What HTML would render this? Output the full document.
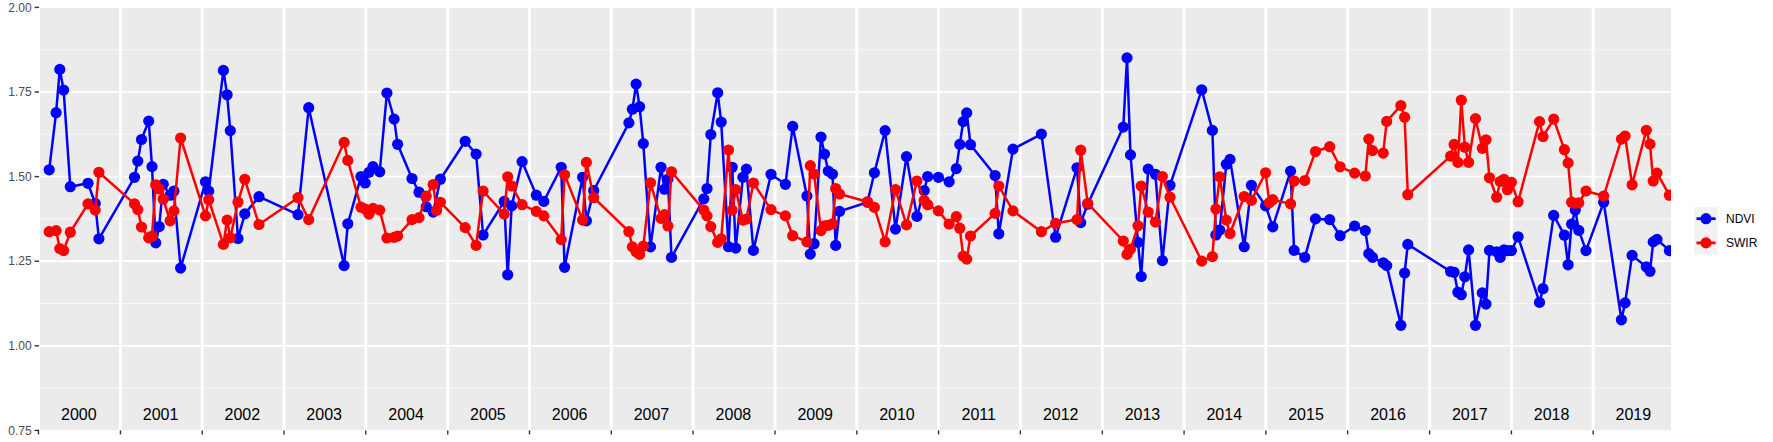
<!DOCTYPE html>
<html><head><meta charset="utf-8"><title>NDVI SWIR time series</title>
<style>html,body{margin:0;padding:0;background:#fff;}body{width:1773px;height:442px;overflow:hidden;}</style></head>
<body>
<svg width="1773" height="442" viewBox="0 0 1773 442" style="display:block">
<defs><clipPath id="pc"><rect x="40.00" y="8.00" width="1631.00" height="422.20"/></clipPath></defs>
<rect width="1773" height="442" fill="#fff"/>
<rect x="40.00" y="8.00" width="1631.00" height="422.20" fill="#EBEBEB"/>
<g clip-path="url(#pc)">
<line x1="40.0" x2="1671.0" y1="49.70" y2="49.70" stroke="#fff" stroke-width="0.65"/>
<line x1="40.0" x2="1671.0" y1="134.30" y2="134.30" stroke="#fff" stroke-width="0.65"/>
<line x1="40.0" x2="1671.0" y1="218.90" y2="218.90" stroke="#fff" stroke-width="0.65"/>
<line x1="40.0" x2="1671.0" y1="303.50" y2="303.50" stroke="#fff" stroke-width="0.65"/>
<line x1="40.0" x2="1671.0" y1="388.10" y2="388.10" stroke="#fff" stroke-width="0.65"/>
<line x1="40.0" x2="1671.0" y1="92.00" y2="92.00" stroke="#fff" stroke-width="1.75"/>
<line x1="40.0" x2="1671.0" y1="176.60" y2="176.60" stroke="#fff" stroke-width="1.75"/>
<line x1="40.0" x2="1671.0" y1="261.20" y2="261.20" stroke="#fff" stroke-width="1.75"/>
<line x1="40.0" x2="1671.0" y1="345.80" y2="345.80" stroke="#fff" stroke-width="1.75"/>
<line x1="38.46" x2="38.46" y1="8.0" y2="430.2" stroke="#fff" stroke-width="3"/>
<line x1="120.45" x2="120.45" y1="8.0" y2="430.2" stroke="#fff" stroke-width="3"/>
<line x1="202.22" x2="202.22" y1="8.0" y2="430.2" stroke="#fff" stroke-width="3"/>
<line x1="283.98" x2="283.98" y1="8.0" y2="430.2" stroke="#fff" stroke-width="3"/>
<line x1="365.75" x2="365.75" y1="8.0" y2="430.2" stroke="#fff" stroke-width="3"/>
<line x1="447.74" x2="447.74" y1="8.0" y2="430.2" stroke="#fff" stroke-width="3"/>
<line x1="529.51" x2="529.51" y1="8.0" y2="430.2" stroke="#fff" stroke-width="3"/>
<line x1="611.28" x2="611.28" y1="8.0" y2="430.2" stroke="#fff" stroke-width="3"/>
<line x1="693.05" x2="693.05" y1="8.0" y2="430.2" stroke="#fff" stroke-width="3"/>
<line x1="775.04" x2="775.04" y1="8.0" y2="430.2" stroke="#fff" stroke-width="3"/>
<line x1="856.80" x2="856.80" y1="8.0" y2="430.2" stroke="#fff" stroke-width="3"/>
<line x1="938.57" x2="938.57" y1="8.0" y2="430.2" stroke="#fff" stroke-width="3"/>
<line x1="1020.34" x2="1020.34" y1="8.0" y2="430.2" stroke="#fff" stroke-width="3"/>
<line x1="1102.33" x2="1102.33" y1="8.0" y2="430.2" stroke="#fff" stroke-width="3"/>
<line x1="1184.10" x2="1184.10" y1="8.0" y2="430.2" stroke="#fff" stroke-width="3"/>
<line x1="1265.86" x2="1265.86" y1="8.0" y2="430.2" stroke="#fff" stroke-width="3"/>
<line x1="1347.63" x2="1347.63" y1="8.0" y2="430.2" stroke="#fff" stroke-width="3"/>
<line x1="1429.62" x2="1429.62" y1="8.0" y2="430.2" stroke="#fff" stroke-width="3"/>
<line x1="1511.39" x2="1511.39" y1="8.0" y2="430.2" stroke="#fff" stroke-width="3"/>
<line x1="1593.16" x2="1593.16" y1="8.0" y2="430.2" stroke="#fff" stroke-width="3"/>
<g font-family="'Liberation Sans', Arial, sans-serif" font-size="16px" fill="#000" text-anchor="middle">
<text x="78.83" y="420">2000</text>
<text x="160.60" y="420">2001</text>
<text x="242.36" y="420">2002</text>
<text x="324.13" y="420">2003</text>
<text x="406.12" y="420">2004</text>
<text x="487.89" y="420">2005</text>
<text x="569.66" y="420">2006</text>
<text x="651.43" y="420">2007</text>
<text x="733.42" y="420">2008</text>
<text x="815.18" y="420">2009</text>
<text x="896.95" y="420">2010</text>
<text x="978.72" y="420">2011</text>
<text x="1060.71" y="420">2012</text>
<text x="1142.48" y="420">2013</text>
<text x="1224.24" y="420">2014</text>
<text x="1306.01" y="420">2015</text>
<text x="1388.00" y="420">2016</text>
<text x="1469.77" y="420">2017</text>
<text x="1551.54" y="420">2018</text>
<text x="1633.31" y="420">2019</text>
</g>
<polyline points="49.2,169.8 56.1,112.7 59.8,69.4 63.6,90.0 70.3,186.7 88.0,183.3 95.2,203.4 98.9,238.8 134.5,177.3 137.8,161.1 141.5,139.5 148.7,121.1 152.0,166.6 155.7,242.9 159.2,226.5 163.2,184.3 170.1,195.2 173.9,191.0 180.6,268.1 205.5,181.8 208.7,191.0 223.4,70.4 227.1,94.8 230.3,130.6 238.0,238.5 244.8,213.9 259.0,196.7 298.0,214.6 308.7,107.7 344.1,265.6 347.8,223.8 361.0,176.5 365.2,183.0 369.0,172.3 373.0,166.6 379.7,171.8 386.9,93.0 394.1,119.1 397.6,144.3 412.0,178.5 419.0,192.2 426.2,206.7 433.2,212.1 440.4,179.2 465.2,141.3 476.1,154.1 483.1,235.0 504.2,201.4 507.7,274.8 511.7,205.9 522.1,161.6 536.3,195.2 543.8,201.4 561.2,167.3 564.6,267.3 582.6,177.3 586.4,220.8 593.7,190.5 628.9,122.9 632.4,109.2 636.1,84.1 639.6,106.7 643.3,143.6 650.5,246.9 661.0,167.3 664.5,189.2 667.9,179.0 671.5,257.4 703.8,198.9 707.0,188.5 710.8,134.5 717.7,92.8 721.2,122.1 728.5,246.7 732.2,167.3 735.7,248.1 742.9,177.3 746.4,169.1 753.4,250.4 771.0,174.3 785.4,184.3 792.7,126.4 806.9,196.0 810.3,254.1 814.1,243.7 821.0,137.0 824.5,154.1 828.2,171.1 832.5,174.1 835.7,245.4 839.5,211.4 867.5,202.2 874.4,172.8 885.1,130.6 895.5,229.1 906.5,156.6 916.9,216.4 924.2,190.5 927.7,176.5 938.4,177.3 949.1,181.8 956.3,168.6 959.8,144.4 963.2,121.6 966.7,112.9 970.5,144.7 995.1,175.5 998.8,233.8 1013.0,149.1 1041.4,134.1 1055.6,237.2 1077.0,167.8 1080.7,222.6 1087.7,204.2 1123.3,127.1 1127.0,57.9 1130.5,154.9 1138.0,242.4 1141.2,276.5 1148.2,169.1 1155.4,174.3 1162.4,260.6 1170.0,185.3 1201.7,89.8 1212.4,130.4 1215.9,235.0 1219.7,230.0 1226.3,164.3 1230.0,159.4 1244.2,246.7 1251.4,185.3 1265.6,205.9 1272.8,226.9 1290.6,171.1 1294.1,250.4 1304.8,257.4 1315.5,218.9 1329.7,219.6 1340.1,235.7 1354.6,226.0 1365.3,230.6 1368.8,253.6 1372.5,257.4 1383.2,262.8 1386.7,265.6 1400.9,325.3 1404.6,273.0 1407.8,244.4 1450.6,271.5 1454.1,272.3 1457.9,292.2 1461.3,294.7 1464.8,276.8 1468.6,249.9 1475.5,325.3 1482.3,292.9 1486.0,304.1 1489.5,250.4 1496.7,251.9 1500.2,257.4 1503.9,249.9 1507.4,250.6 1511.4,250.6 1518.1,236.8 1539.5,302.4 1543.0,288.7 1553.7,215.4 1564.4,235.2 1568.1,264.8 1571.6,224.1 1575.3,210.1 1578.8,230.4 1586.0,250.6 1603.7,202.2 1621.4,319.8 1625.1,302.9 1632.1,255.4 1646.3,266.8 1650.0,271.3 1653.2,241.9 1657.0,239.4 1669.4,250.6" fill="none" stroke="#0000FF" stroke-width="2.5" stroke-linejoin="round"/>
<g fill="#0000FF"><circle cx="49.2" cy="169.8" r="5.6"/><circle cx="56.1" cy="112.7" r="5.6"/><circle cx="59.8" cy="69.4" r="5.6"/><circle cx="63.6" cy="90.0" r="5.6"/><circle cx="70.3" cy="186.7" r="5.6"/><circle cx="88.0" cy="183.3" r="5.6"/><circle cx="95.2" cy="203.4" r="5.6"/><circle cx="98.9" cy="238.8" r="5.6"/><circle cx="134.5" cy="177.3" r="5.6"/><circle cx="137.8" cy="161.1" r="5.6"/><circle cx="141.5" cy="139.5" r="5.6"/><circle cx="148.7" cy="121.1" r="5.6"/><circle cx="152.0" cy="166.6" r="5.6"/><circle cx="155.7" cy="242.9" r="5.6"/><circle cx="159.2" cy="226.5" r="5.6"/><circle cx="163.2" cy="184.3" r="5.6"/><circle cx="170.1" cy="195.2" r="5.6"/><circle cx="173.9" cy="191.0" r="5.6"/><circle cx="180.6" cy="268.1" r="5.6"/><circle cx="205.5" cy="181.8" r="5.6"/><circle cx="208.7" cy="191.0" r="5.6"/><circle cx="223.4" cy="70.4" r="5.6"/><circle cx="227.1" cy="94.8" r="5.6"/><circle cx="230.3" cy="130.6" r="5.6"/><circle cx="238.0" cy="238.5" r="5.6"/><circle cx="244.8" cy="213.9" r="5.6"/><circle cx="259.0" cy="196.7" r="5.6"/><circle cx="298.0" cy="214.6" r="5.6"/><circle cx="308.7" cy="107.7" r="5.6"/><circle cx="344.1" cy="265.6" r="5.6"/><circle cx="347.8" cy="223.8" r="5.6"/><circle cx="361.0" cy="176.5" r="5.6"/><circle cx="365.2" cy="183.0" r="5.6"/><circle cx="369.0" cy="172.3" r="5.6"/><circle cx="373.0" cy="166.6" r="5.6"/><circle cx="379.7" cy="171.8" r="5.6"/><circle cx="386.9" cy="93.0" r="5.6"/><circle cx="394.1" cy="119.1" r="5.6"/><circle cx="397.6" cy="144.3" r="5.6"/><circle cx="412.0" cy="178.5" r="5.6"/><circle cx="419.0" cy="192.2" r="5.6"/><circle cx="426.2" cy="206.7" r="5.6"/><circle cx="433.2" cy="212.1" r="5.6"/><circle cx="440.4" cy="179.2" r="5.6"/><circle cx="465.2" cy="141.3" r="5.6"/><circle cx="476.1" cy="154.1" r="5.6"/><circle cx="483.1" cy="235.0" r="5.6"/><circle cx="504.2" cy="201.4" r="5.6"/><circle cx="507.7" cy="274.8" r="5.6"/><circle cx="511.7" cy="205.9" r="5.6"/><circle cx="522.1" cy="161.6" r="5.6"/><circle cx="536.3" cy="195.2" r="5.6"/><circle cx="543.8" cy="201.4" r="5.6"/><circle cx="561.2" cy="167.3" r="5.6"/><circle cx="564.6" cy="267.3" r="5.6"/><circle cx="582.6" cy="177.3" r="5.6"/><circle cx="586.4" cy="220.8" r="5.6"/><circle cx="593.7" cy="190.5" r="5.6"/><circle cx="628.9" cy="122.9" r="5.6"/><circle cx="632.4" cy="109.2" r="5.6"/><circle cx="636.1" cy="84.1" r="5.6"/><circle cx="639.6" cy="106.7" r="5.6"/><circle cx="643.3" cy="143.6" r="5.6"/><circle cx="650.5" cy="246.9" r="5.6"/><circle cx="661.0" cy="167.3" r="5.6"/><circle cx="664.5" cy="189.2" r="5.6"/><circle cx="667.9" cy="179.0" r="5.6"/><circle cx="671.5" cy="257.4" r="5.6"/><circle cx="703.8" cy="198.9" r="5.6"/><circle cx="707.0" cy="188.5" r="5.6"/><circle cx="710.8" cy="134.5" r="5.6"/><circle cx="717.7" cy="92.8" r="5.6"/><circle cx="721.2" cy="122.1" r="5.6"/><circle cx="728.5" cy="246.7" r="5.6"/><circle cx="732.2" cy="167.3" r="5.6"/><circle cx="735.7" cy="248.1" r="5.6"/><circle cx="742.9" cy="177.3" r="5.6"/><circle cx="746.4" cy="169.1" r="5.6"/><circle cx="753.4" cy="250.4" r="5.6"/><circle cx="771.0" cy="174.3" r="5.6"/><circle cx="785.4" cy="184.3" r="5.6"/><circle cx="792.7" cy="126.4" r="5.6"/><circle cx="806.9" cy="196.0" r="5.6"/><circle cx="810.3" cy="254.1" r="5.6"/><circle cx="814.1" cy="243.7" r="5.6"/><circle cx="821.0" cy="137.0" r="5.6"/><circle cx="824.5" cy="154.1" r="5.6"/><circle cx="828.2" cy="171.1" r="5.6"/><circle cx="832.5" cy="174.1" r="5.6"/><circle cx="835.7" cy="245.4" r="5.6"/><circle cx="839.5" cy="211.4" r="5.6"/><circle cx="867.5" cy="202.2" r="5.6"/><circle cx="874.4" cy="172.8" r="5.6"/><circle cx="885.1" cy="130.6" r="5.6"/><circle cx="895.5" cy="229.1" r="5.6"/><circle cx="906.5" cy="156.6" r="5.6"/><circle cx="916.9" cy="216.4" r="5.6"/><circle cx="924.2" cy="190.5" r="5.6"/><circle cx="927.7" cy="176.5" r="5.6"/><circle cx="938.4" cy="177.3" r="5.6"/><circle cx="949.1" cy="181.8" r="5.6"/><circle cx="956.3" cy="168.6" r="5.6"/><circle cx="959.8" cy="144.4" r="5.6"/><circle cx="963.2" cy="121.6" r="5.6"/><circle cx="966.7" cy="112.9" r="5.6"/><circle cx="970.5" cy="144.7" r="5.6"/><circle cx="995.1" cy="175.5" r="5.6"/><circle cx="998.8" cy="233.8" r="5.6"/><circle cx="1013.0" cy="149.1" r="5.6"/><circle cx="1041.4" cy="134.1" r="5.6"/><circle cx="1055.6" cy="237.2" r="5.6"/><circle cx="1077.0" cy="167.8" r="5.6"/><circle cx="1080.7" cy="222.6" r="5.6"/><circle cx="1087.7" cy="204.2" r="5.6"/><circle cx="1123.3" cy="127.1" r="5.6"/><circle cx="1127.0" cy="57.9" r="5.6"/><circle cx="1130.5" cy="154.9" r="5.6"/><circle cx="1138.0" cy="242.4" r="5.6"/><circle cx="1141.2" cy="276.5" r="5.6"/><circle cx="1148.2" cy="169.1" r="5.6"/><circle cx="1155.4" cy="174.3" r="5.6"/><circle cx="1162.4" cy="260.6" r="5.6"/><circle cx="1170.0" cy="185.3" r="5.6"/><circle cx="1201.7" cy="89.8" r="5.6"/><circle cx="1212.4" cy="130.4" r="5.6"/><circle cx="1215.9" cy="235.0" r="5.6"/><circle cx="1219.7" cy="230.0" r="5.6"/><circle cx="1226.3" cy="164.3" r="5.6"/><circle cx="1230.0" cy="159.4" r="5.6"/><circle cx="1244.2" cy="246.7" r="5.6"/><circle cx="1251.4" cy="185.3" r="5.6"/><circle cx="1265.6" cy="205.9" r="5.6"/><circle cx="1272.8" cy="226.9" r="5.6"/><circle cx="1290.6" cy="171.1" r="5.6"/><circle cx="1294.1" cy="250.4" r="5.6"/><circle cx="1304.8" cy="257.4" r="5.6"/><circle cx="1315.5" cy="218.9" r="5.6"/><circle cx="1329.7" cy="219.6" r="5.6"/><circle cx="1340.1" cy="235.7" r="5.6"/><circle cx="1354.6" cy="226.0" r="5.6"/><circle cx="1365.3" cy="230.6" r="5.6"/><circle cx="1368.8" cy="253.6" r="5.6"/><circle cx="1372.5" cy="257.4" r="5.6"/><circle cx="1383.2" cy="262.8" r="5.6"/><circle cx="1386.7" cy="265.6" r="5.6"/><circle cx="1400.9" cy="325.3" r="5.6"/><circle cx="1404.6" cy="273.0" r="5.6"/><circle cx="1407.8" cy="244.4" r="5.6"/><circle cx="1450.6" cy="271.5" r="5.6"/><circle cx="1454.1" cy="272.3" r="5.6"/><circle cx="1457.9" cy="292.2" r="5.6"/><circle cx="1461.3" cy="294.7" r="5.6"/><circle cx="1464.8" cy="276.8" r="5.6"/><circle cx="1468.6" cy="249.9" r="5.6"/><circle cx="1475.5" cy="325.3" r="5.6"/><circle cx="1482.3" cy="292.9" r="5.6"/><circle cx="1486.0" cy="304.1" r="5.6"/><circle cx="1489.5" cy="250.4" r="5.6"/><circle cx="1496.7" cy="251.9" r="5.6"/><circle cx="1500.2" cy="257.4" r="5.6"/><circle cx="1503.9" cy="249.9" r="5.6"/><circle cx="1507.4" cy="250.6" r="5.6"/><circle cx="1511.4" cy="250.6" r="5.6"/><circle cx="1518.1" cy="236.8" r="5.6"/><circle cx="1539.5" cy="302.4" r="5.6"/><circle cx="1543.0" cy="288.7" r="5.6"/><circle cx="1553.7" cy="215.4" r="5.6"/><circle cx="1564.4" cy="235.2" r="5.6"/><circle cx="1568.1" cy="264.8" r="5.6"/><circle cx="1571.6" cy="224.1" r="5.6"/><circle cx="1575.3" cy="210.1" r="5.6"/><circle cx="1578.8" cy="230.4" r="5.6"/><circle cx="1586.0" cy="250.6" r="5.6"/><circle cx="1603.7" cy="202.2" r="5.6"/><circle cx="1621.4" cy="319.8" r="5.6"/><circle cx="1625.1" cy="302.9" r="5.6"/><circle cx="1632.1" cy="255.4" r="5.6"/><circle cx="1646.3" cy="266.8" r="5.6"/><circle cx="1650.0" cy="271.3" r="5.6"/><circle cx="1653.2" cy="241.9" r="5.6"/><circle cx="1657.0" cy="239.4" r="5.6"/><circle cx="1669.4" cy="250.6" r="5.6"/></g>
<polyline points="49.2,231.7 56.1,230.6 59.8,248.6 63.6,250.6 70.3,232.2 88.0,203.9 95.2,210.1 98.9,172.3 134.5,203.9 137.8,209.6 141.5,227.0 148.7,237.9 152.0,236.2 155.7,184.8 159.2,189.0 163.2,199.2 170.1,220.8 173.9,210.9 180.6,138.0 205.5,215.9 208.7,199.7 223.4,244.4 227.1,220.1 230.3,237.9 238.0,202.2 244.8,179.3 259.0,224.5 298.0,197.7 308.7,219.6 344.1,142.4 347.8,160.4 361.0,207.2 365.2,209.1 369.0,214.1 373.0,208.4 379.7,210.1 386.9,238.0 394.1,237.4 397.6,236.0 412.0,219.6 419.0,217.6 426.2,196.2 433.2,184.5 436.6,210.4 440.4,202.3 465.2,227.6 476.1,245.4 483.1,191.0 504.2,214.1 507.7,176.8 511.7,186.0 522.1,204.7 536.3,211.4 543.8,215.9 561.2,239.6 564.6,174.8 582.6,220.1 586.4,162.4 593.7,197.7 628.9,231.5 632.4,246.9 636.1,251.9 639.6,254.4 643.3,246.2 650.5,182.8 661.0,218.4 664.5,214.6 667.9,226.0 671.5,171.8 703.8,210.1 707.0,215.9 710.8,226.6 717.7,242.4 721.2,238.8 728.5,150.0 732.2,210.1 735.7,189.7 742.9,220.1 746.4,219.1 753.4,183.0 771.0,209.6 785.4,215.9 792.7,235.7 806.9,241.9 810.3,165.6 814.1,174.1 821.0,230.6 824.5,225.8 828.2,225.3 832.5,223.8 835.7,188.5 839.5,194.0 867.5,201.8 874.4,207.4 885.1,241.9 895.5,189.7 906.5,224.9 916.9,181.0 924.2,200.4 927.7,204.7 938.4,210.9 949.1,224.0 956.3,216.6 959.8,228.2 963.2,256.1 966.7,259.1 970.5,236.0 995.1,213.4 998.8,186.0 1013.0,210.9 1041.4,231.7 1055.6,223.3 1077.0,219.6 1080.7,150.2 1087.7,203.4 1123.3,241.0 1127.0,254.4 1130.5,249.1 1138.0,225.8 1141.2,186.0 1148.2,212.1 1155.4,222.1 1162.4,176.5 1170.0,197.2 1201.7,261.1 1212.4,256.6 1215.9,209.1 1219.7,176.8 1226.3,220.1 1230.0,233.5 1244.2,196.5 1251.4,200.4 1265.6,172.8 1269.3,202.7 1272.8,199.7 1290.6,203.9 1294.1,181.0 1304.8,180.5 1315.5,151.5 1329.7,146.7 1340.1,166.8 1354.6,173.1 1365.3,176.0 1368.8,139.1 1372.5,150.6 1383.2,153.1 1386.7,121.4 1400.9,105.5 1404.6,117.2 1407.8,194.7 1450.6,156.1 1454.1,144.4 1457.9,162.4 1461.3,100.2 1464.8,147.2 1468.6,162.4 1475.5,118.6 1482.3,148.3 1486.0,139.8 1489.5,177.8 1496.7,197.2 1500.2,181.5 1503.9,179.3 1507.4,189.7 1511.4,182.3 1518.1,201.7 1539.5,121.6 1543.0,136.6 1553.7,119.1 1564.4,149.7 1568.1,162.9 1571.6,202.2 1575.3,203.4 1578.8,202.9 1586.0,191.0 1603.7,196.0 1621.4,139.1 1625.1,136.0 1632.1,184.8 1646.3,130.3 1650.0,144.1 1653.2,181.0 1657.0,173.1 1669.4,195.2" fill="none" stroke="#FF0000" stroke-width="2.5" stroke-linejoin="round"/>
<g fill="#FF0000"><circle cx="49.2" cy="231.7" r="5.6"/><circle cx="56.1" cy="230.6" r="5.6"/><circle cx="59.8" cy="248.6" r="5.6"/><circle cx="63.6" cy="250.6" r="5.6"/><circle cx="70.3" cy="232.2" r="5.6"/><circle cx="88.0" cy="203.9" r="5.6"/><circle cx="95.2" cy="210.1" r="5.6"/><circle cx="98.9" cy="172.3" r="5.6"/><circle cx="134.5" cy="203.9" r="5.6"/><circle cx="137.8" cy="209.6" r="5.6"/><circle cx="141.5" cy="227.0" r="5.6"/><circle cx="148.7" cy="237.9" r="5.6"/><circle cx="152.0" cy="236.2" r="5.6"/><circle cx="155.7" cy="184.8" r="5.6"/><circle cx="159.2" cy="189.0" r="5.6"/><circle cx="163.2" cy="199.2" r="5.6"/><circle cx="170.1" cy="220.8" r="5.6"/><circle cx="173.9" cy="210.9" r="5.6"/><circle cx="180.6" cy="138.0" r="5.6"/><circle cx="205.5" cy="215.9" r="5.6"/><circle cx="208.7" cy="199.7" r="5.6"/><circle cx="223.4" cy="244.4" r="5.6"/><circle cx="227.1" cy="220.1" r="5.6"/><circle cx="230.3" cy="237.9" r="5.6"/><circle cx="238.0" cy="202.2" r="5.6"/><circle cx="244.8" cy="179.3" r="5.6"/><circle cx="259.0" cy="224.5" r="5.6"/><circle cx="298.0" cy="197.7" r="5.6"/><circle cx="308.7" cy="219.6" r="5.6"/><circle cx="344.1" cy="142.4" r="5.6"/><circle cx="347.8" cy="160.4" r="5.6"/><circle cx="361.0" cy="207.2" r="5.6"/><circle cx="365.2" cy="209.1" r="5.6"/><circle cx="369.0" cy="214.1" r="5.6"/><circle cx="373.0" cy="208.4" r="5.6"/><circle cx="379.7" cy="210.1" r="5.6"/><circle cx="386.9" cy="238.0" r="5.6"/><circle cx="394.1" cy="237.4" r="5.6"/><circle cx="397.6" cy="236.0" r="5.6"/><circle cx="412.0" cy="219.6" r="5.6"/><circle cx="419.0" cy="217.6" r="5.6"/><circle cx="426.2" cy="196.2" r="5.6"/><circle cx="433.2" cy="184.5" r="5.6"/><circle cx="436.6" cy="210.4" r="5.6"/><circle cx="440.4" cy="202.3" r="5.6"/><circle cx="465.2" cy="227.6" r="5.6"/><circle cx="476.1" cy="245.4" r="5.6"/><circle cx="483.1" cy="191.0" r="5.6"/><circle cx="504.2" cy="214.1" r="5.6"/><circle cx="507.7" cy="176.8" r="5.6"/><circle cx="511.7" cy="186.0" r="5.6"/><circle cx="522.1" cy="204.7" r="5.6"/><circle cx="536.3" cy="211.4" r="5.6"/><circle cx="543.8" cy="215.9" r="5.6"/><circle cx="561.2" cy="239.6" r="5.6"/><circle cx="564.6" cy="174.8" r="5.6"/><circle cx="582.6" cy="220.1" r="5.6"/><circle cx="586.4" cy="162.4" r="5.6"/><circle cx="593.7" cy="197.7" r="5.6"/><circle cx="628.9" cy="231.5" r="5.6"/><circle cx="632.4" cy="246.9" r="5.6"/><circle cx="636.1" cy="251.9" r="5.6"/><circle cx="639.6" cy="254.4" r="5.6"/><circle cx="643.3" cy="246.2" r="5.6"/><circle cx="650.5" cy="182.8" r="5.6"/><circle cx="661.0" cy="218.4" r="5.6"/><circle cx="664.5" cy="214.6" r="5.6"/><circle cx="667.9" cy="226.0" r="5.6"/><circle cx="671.5" cy="171.8" r="5.6"/><circle cx="703.8" cy="210.1" r="5.6"/><circle cx="707.0" cy="215.9" r="5.6"/><circle cx="710.8" cy="226.6" r="5.6"/><circle cx="717.7" cy="242.4" r="5.6"/><circle cx="721.2" cy="238.8" r="5.6"/><circle cx="728.5" cy="150.0" r="5.6"/><circle cx="732.2" cy="210.1" r="5.6"/><circle cx="735.7" cy="189.7" r="5.6"/><circle cx="742.9" cy="220.1" r="5.6"/><circle cx="746.4" cy="219.1" r="5.6"/><circle cx="753.4" cy="183.0" r="5.6"/><circle cx="771.0" cy="209.6" r="5.6"/><circle cx="785.4" cy="215.9" r="5.6"/><circle cx="792.7" cy="235.7" r="5.6"/><circle cx="806.9" cy="241.9" r="5.6"/><circle cx="810.3" cy="165.6" r="5.6"/><circle cx="814.1" cy="174.1" r="5.6"/><circle cx="821.0" cy="230.6" r="5.6"/><circle cx="824.5" cy="225.8" r="5.6"/><circle cx="828.2" cy="225.3" r="5.6"/><circle cx="832.5" cy="223.8" r="5.6"/><circle cx="835.7" cy="188.5" r="5.6"/><circle cx="839.5" cy="194.0" r="5.6"/><circle cx="867.5" cy="201.8" r="5.6"/><circle cx="874.4" cy="207.4" r="5.6"/><circle cx="885.1" cy="241.9" r="5.6"/><circle cx="895.5" cy="189.7" r="5.6"/><circle cx="906.5" cy="224.9" r="5.6"/><circle cx="916.9" cy="181.0" r="5.6"/><circle cx="924.2" cy="200.4" r="5.6"/><circle cx="927.7" cy="204.7" r="5.6"/><circle cx="938.4" cy="210.9" r="5.6"/><circle cx="949.1" cy="224.0" r="5.6"/><circle cx="956.3" cy="216.6" r="5.6"/><circle cx="959.8" cy="228.2" r="5.6"/><circle cx="963.2" cy="256.1" r="5.6"/><circle cx="966.7" cy="259.1" r="5.6"/><circle cx="970.5" cy="236.0" r="5.6"/><circle cx="995.1" cy="213.4" r="5.6"/><circle cx="998.8" cy="186.0" r="5.6"/><circle cx="1013.0" cy="210.9" r="5.6"/><circle cx="1041.4" cy="231.7" r="5.6"/><circle cx="1055.6" cy="223.3" r="5.6"/><circle cx="1077.0" cy="219.6" r="5.6"/><circle cx="1080.7" cy="150.2" r="5.6"/><circle cx="1087.7" cy="203.4" r="5.6"/><circle cx="1123.3" cy="241.0" r="5.6"/><circle cx="1127.0" cy="254.4" r="5.6"/><circle cx="1130.5" cy="249.1" r="5.6"/><circle cx="1138.0" cy="225.8" r="5.6"/><circle cx="1141.2" cy="186.0" r="5.6"/><circle cx="1148.2" cy="212.1" r="5.6"/><circle cx="1155.4" cy="222.1" r="5.6"/><circle cx="1162.4" cy="176.5" r="5.6"/><circle cx="1170.0" cy="197.2" r="5.6"/><circle cx="1201.7" cy="261.1" r="5.6"/><circle cx="1212.4" cy="256.6" r="5.6"/><circle cx="1215.9" cy="209.1" r="5.6"/><circle cx="1219.7" cy="176.8" r="5.6"/><circle cx="1226.3" cy="220.1" r="5.6"/><circle cx="1230.0" cy="233.5" r="5.6"/><circle cx="1244.2" cy="196.5" r="5.6"/><circle cx="1251.4" cy="200.4" r="5.6"/><circle cx="1265.6" cy="172.8" r="5.6"/><circle cx="1269.3" cy="202.7" r="5.6"/><circle cx="1272.8" cy="199.7" r="5.6"/><circle cx="1290.6" cy="203.9" r="5.6"/><circle cx="1294.1" cy="181.0" r="5.6"/><circle cx="1304.8" cy="180.5" r="5.6"/><circle cx="1315.5" cy="151.5" r="5.6"/><circle cx="1329.7" cy="146.7" r="5.6"/><circle cx="1340.1" cy="166.8" r="5.6"/><circle cx="1354.6" cy="173.1" r="5.6"/><circle cx="1365.3" cy="176.0" r="5.6"/><circle cx="1368.8" cy="139.1" r="5.6"/><circle cx="1372.5" cy="150.6" r="5.6"/><circle cx="1383.2" cy="153.1" r="5.6"/><circle cx="1386.7" cy="121.4" r="5.6"/><circle cx="1400.9" cy="105.5" r="5.6"/><circle cx="1404.6" cy="117.2" r="5.6"/><circle cx="1407.8" cy="194.7" r="5.6"/><circle cx="1450.6" cy="156.1" r="5.6"/><circle cx="1454.1" cy="144.4" r="5.6"/><circle cx="1457.9" cy="162.4" r="5.6"/><circle cx="1461.3" cy="100.2" r="5.6"/><circle cx="1464.8" cy="147.2" r="5.6"/><circle cx="1468.6" cy="162.4" r="5.6"/><circle cx="1475.5" cy="118.6" r="5.6"/><circle cx="1482.3" cy="148.3" r="5.6"/><circle cx="1486.0" cy="139.8" r="5.6"/><circle cx="1489.5" cy="177.8" r="5.6"/><circle cx="1496.7" cy="197.2" r="5.6"/><circle cx="1500.2" cy="181.5" r="5.6"/><circle cx="1503.9" cy="179.3" r="5.6"/><circle cx="1507.4" cy="189.7" r="5.6"/><circle cx="1511.4" cy="182.3" r="5.6"/><circle cx="1518.1" cy="201.7" r="5.6"/><circle cx="1539.5" cy="121.6" r="5.6"/><circle cx="1543.0" cy="136.6" r="5.6"/><circle cx="1553.7" cy="119.1" r="5.6"/><circle cx="1564.4" cy="149.7" r="5.6"/><circle cx="1568.1" cy="162.9" r="5.6"/><circle cx="1571.6" cy="202.2" r="5.6"/><circle cx="1575.3" cy="203.4" r="5.6"/><circle cx="1578.8" cy="202.9" r="5.6"/><circle cx="1586.0" cy="191.0" r="5.6"/><circle cx="1603.7" cy="196.0" r="5.6"/><circle cx="1621.4" cy="139.1" r="5.6"/><circle cx="1625.1" cy="136.0" r="5.6"/><circle cx="1632.1" cy="184.8" r="5.6"/><circle cx="1646.3" cy="130.3" r="5.6"/><circle cx="1650.0" cy="144.1" r="5.6"/><circle cx="1653.2" cy="181.0" r="5.6"/><circle cx="1657.0" cy="173.1" r="5.6"/><circle cx="1669.4" cy="195.2" r="5.6"/></g>
</g>
<line x1="34.6" x2="39.0" y1="7.40" y2="7.40" stroke="#333" stroke-width="1.4"/>
<line x1="34.6" x2="39.0" y1="92.00" y2="92.00" stroke="#333" stroke-width="1.4"/>
<line x1="34.6" x2="39.0" y1="176.60" y2="176.60" stroke="#333" stroke-width="1.4"/>
<line x1="34.6" x2="39.0" y1="261.20" y2="261.20" stroke="#333" stroke-width="1.4"/>
<line x1="34.6" x2="39.0" y1="345.80" y2="345.80" stroke="#333" stroke-width="1.4"/>
<line x1="34.6" x2="39.0" y1="430.40" y2="430.40" stroke="#333" stroke-width="1.4"/>
<line x1="38.46" x2="38.46" y1="430.4" y2="434.4" stroke="#333" stroke-width="1.4"/>
<line x1="120.45" x2="120.45" y1="430.4" y2="434.4" stroke="#333" stroke-width="1.4"/>
<line x1="202.22" x2="202.22" y1="430.4" y2="434.4" stroke="#333" stroke-width="1.4"/>
<line x1="283.98" x2="283.98" y1="430.4" y2="434.4" stroke="#333" stroke-width="1.4"/>
<line x1="365.75" x2="365.75" y1="430.4" y2="434.4" stroke="#333" stroke-width="1.4"/>
<line x1="447.74" x2="447.74" y1="430.4" y2="434.4" stroke="#333" stroke-width="1.4"/>
<line x1="529.51" x2="529.51" y1="430.4" y2="434.4" stroke="#333" stroke-width="1.4"/>
<line x1="611.28" x2="611.28" y1="430.4" y2="434.4" stroke="#333" stroke-width="1.4"/>
<line x1="693.05" x2="693.05" y1="430.4" y2="434.4" stroke="#333" stroke-width="1.4"/>
<line x1="775.04" x2="775.04" y1="430.4" y2="434.4" stroke="#333" stroke-width="1.4"/>
<line x1="856.80" x2="856.80" y1="430.4" y2="434.4" stroke="#333" stroke-width="1.4"/>
<line x1="938.57" x2="938.57" y1="430.4" y2="434.4" stroke="#333" stroke-width="1.4"/>
<line x1="1020.34" x2="1020.34" y1="430.4" y2="434.4" stroke="#333" stroke-width="1.4"/>
<line x1="1102.33" x2="1102.33" y1="430.4" y2="434.4" stroke="#333" stroke-width="1.4"/>
<line x1="1184.10" x2="1184.10" y1="430.4" y2="434.4" stroke="#333" stroke-width="1.4"/>
<line x1="1265.86" x2="1265.86" y1="430.4" y2="434.4" stroke="#333" stroke-width="1.4"/>
<line x1="1347.63" x2="1347.63" y1="430.4" y2="434.4" stroke="#333" stroke-width="1.4"/>
<line x1="1429.62" x2="1429.62" y1="430.4" y2="434.4" stroke="#333" stroke-width="1.4"/>
<line x1="1511.39" x2="1511.39" y1="430.4" y2="434.4" stroke="#333" stroke-width="1.4"/>
<line x1="1593.16" x2="1593.16" y1="430.4" y2="434.4" stroke="#333" stroke-width="1.4"/>
<g font-family="'Liberation Sans', Arial, sans-serif" font-size="12px" fill="#4D4D4D" text-anchor="end">
<text x="31.7" y="11.60">2.00</text>
<text x="31.7" y="96.20">1.75</text>
<text x="31.7" y="180.80">1.50</text>
<text x="31.7" y="265.40">1.25</text>
<text x="31.7" y="350.00">1.00</text>
<text x="31.7" y="434.60">0.75</text>
</g>
<rect x="1694.3" y="207.2" width="23.4" height="47.4" fill="#F2F2F2"/>
<line x1="1696.5" x2="1715.6" y1="218.7" y2="218.7" stroke="#0000FF" stroke-width="2.8"/>
<circle cx="1706" cy="218.7" r="5.6" fill="#0000FF"/>
<text x="1726.0" y="222.9" font-family="'Liberation Sans', Arial, sans-serif" font-size="12px" fill="#000">NDVI</text>
<line x1="1696.5" x2="1715.6" y1="242.9" y2="242.9" stroke="#FF0000" stroke-width="2.8"/>
<circle cx="1706" cy="242.9" r="5.6" fill="#FF0000"/>
<text x="1726.0" y="247.1" font-family="'Liberation Sans', Arial, sans-serif" font-size="12px" fill="#000">SWIR</text>
</svg>
</body></html>
